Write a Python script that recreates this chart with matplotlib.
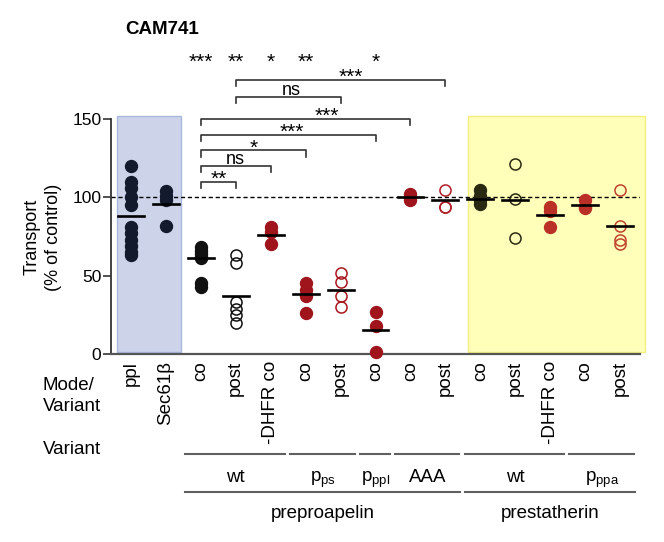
import matplotlib
matplotlib.use('Agg')
import matplotlib.pyplot as plt
from matplotlib.patches import Rectangle

plt.rcParams['font.family'] = ['Liberation Sans', 'DejaVu Sans']
plt.rcParams['mathtext.fontset'] = 'custom'
plt.rcParams['mathtext.rm'] = 'Liberation Sans'
plt.rcParams['mathtext.it'] = 'Liberation Sans'

# Mode / Variant der einzelnen Spalten
modi = ['ppl', 'Sec61β', 'co', 'post', '-DHFR co', 'co', 'post', 'co',
        'co', 'post', 'co', 'post', '-DHFR co', 'co', 'post']

# Einzelwerte (Transport, % der Kontrolle)
werte = [
    [120, 110, 106, 100, 95, 81, 77, 73, 69, 65, 63],
    [104, 101, 98, 82],
    [68, 66, 64, 62, 61, 45, 43],
    [63, 58, 33, 29, 25, 20],
    [81, 78, 70],
    [45, 41, 37, 26],
    [52, 46, 37, 30],
    [27, 18, 1],
    [102, 100, 98],
    [105, 94, 94],
    [105, 101, 98, 96],
    [121, 99, 74],
    [94, 91, 81],
    [98, 94, 93],
    [105, 82, 73, 70],
]
mittelwerte = [88, 96, 61, 37, 76, 38, 41, 15, 100, 98, 99, 98, 89, 95, 82]
gefuellt = [True, True, True, False, True, True, False, True,
            True, False, True, False, True, True, False]
farben = ['#141a2e', '#141a2e', '#111111', '#111111', '#a0141c', '#a0141c', '#a8161e',
          '#a0141c', '#a0141c', '#b01e26', '#2a2a12', '#2a2a12', '#bb3026', '#bb3026', '#c0402e']

# Signifikanz-Klammern: (von, bis, hoehe, text, text_x)
klammern = [
    (2, 3, 110, '**', 2.5),
    (2, 4, 120, 'ns', 3.0),
    (2, 5, 130, '*', 3.5),
    (2, 7, 140, '***', 4.6),
    (2, 8, 150, '***', 5.6),
    (3, 6, 164, 'ns', 4.6),
    (3, 9, 175, '***', 6.3),
]
# Sterne oben (vs. ppl)
sterne_x = [2, 3, 4, 5, 7]
sterne = ['***', '**', '*', '**', '*']

# Varianten und Proteine (erste, letzte Spalte)
varianten = [('wt', 2, 4), (r'p$_{\mathrm{ps}}$', 5, 6), (r'p$_{\mathrm{ppl}}$', 7, 7),
             ('AAA', 8, 9), ('wt', 10, 12), (r'p$_{\mathrm{ppa}}$', 13, 14)]
proteine = [('preproapelin', 2, 9), ('prestatherin', 10, 14)]

fig = plt.figure(figsize=(6.64, 5.42), dpi=100)
ax = fig.add_axes([0.1672, 0.3469, 0.7967, 0.4335])

# Hintergrundkaesten
ax.add_patch(Rectangle((-0.40, 1.3), 1.83, 150.7, facecolor='#cdd4ea', edgecolor='#a9b9de',
                       lw=1, zorder=0, clip_on=False))
ax.add_patch(Rectangle((9.65, 1.3), 5.07, 150.7, facecolor='#ffffb9', edgecolor='#f2ee80',
                       lw=1, zorder=0, clip_on=False))

ax.axhline(100, color='black', lw=1, ls=(0, (3, 2)), zorder=1)

for i in range(len(modi)):
    xs = [i] * len(werte[i])
    if gefuellt[i]:
        ax.plot(xs, werte[i], 'o', ms=8.6, color=farben[i], mec=farben[i], zorder=3, clip_on=False)
    else:
        ax.plot(xs, werte[i], 'o', ms=8, mfc='none', mec=farben[i], mew=1.1, zorder=3, clip_on=False)
    ax.plot([i - 0.37, i + 0.37], [mittelwerte[i]] * 2, color='black', lw=1.9, zorder=4)

# Klammern
for von, bis, h, txt, tx in klammern:
    ax.plot([von, von, bis, bis], [h - 4, h, h, h - 4], color='#333333', lw=1.2, clip_on=False)
    if txt == 'ns':
        ax.text(tx, h + 1.5, txt, ha='center', va='baseline', fontsize=13)
    else:
        ax.text(tx, h - 2, txt, ha='center', va='baseline', fontsize=15)

for x, s in zip(sterne_x, sterne):
    ax.text(x, 183, s, ha='center', va='baseline', fontsize=15)

ax.set_xlim(-0.57, 14.57)
ax.set_ylim(0, 150)
ax.set_yticks([0, 50, 100, 150])
ax.set_xticks(range(len(modi)))
ax.set_xticklabels(modi, rotation=90, fontsize=13.5)
ax.tick_params(axis='x', length=0, pad=5)
ax.tick_params(axis='y', length=5.5, width=1.2, pad=1.5, labelsize=12.5, color='#333333')
ax.spines['top'].set_visible(False)
ax.spines['right'].set_visible(False)
ax.spines['left'].set_color('#333333')
ax.spines['left'].set_linewidth(1.3)
ax.spines['bottom'].set_color('#555555')
ax.spines['bottom'].set_linewidth(1.6)

# Beschriftungen
fig.text(125 / 664, 1 - 30 / 542, 'CAM741', fontsize=13.5, fontweight='bold', va='center')
fig.text(0.064, 0.5627, 'Transport\n(% of control)', rotation=90, ha='center', va='center',
         fontsize=13, linespacing=1.35)
fig.text(43 / 664, 1 - 396 / 542, 'Mode/\nVariant', ha='left', va='center', fontsize=13.5,
         linespacing=1.25)
fig.text(43 / 664, 1 - 449 / 542, 'Variant', ha='left', va='center', fontsize=13.5)

trans = ax.get_xaxis_transform()
def fig_y(px):
    # Pixel von oben -> Achsenkoordinate
    yf = 1 - px / 542
    return (yf - 0.3469) / 0.4335

for txt, a, b in varianten:
    ax.plot([a - 0.45, b + 0.4], [fig_y(454)] * 2, color='#606060', lw=1.5,
            transform=trans, clip_on=False)
    ax.text((a + b) / 2, fig_y(482), txt, ha='center', va='baseline', fontsize=13.5,
            transform=trans)

for txt, a, b in proteine:
    ax.plot([a - 0.45, b + 0.42], [fig_y(492)] * 2, color='#606060', lw=1.5,
            transform=trans, clip_on=False)
    ax.text((a - 0.45 + b + 0.42) / 2, fig_y(518), txt, ha='center', va='baseline',
            fontsize=13.5, transform=trans)

plt.savefig('out.png', dpi=100)
